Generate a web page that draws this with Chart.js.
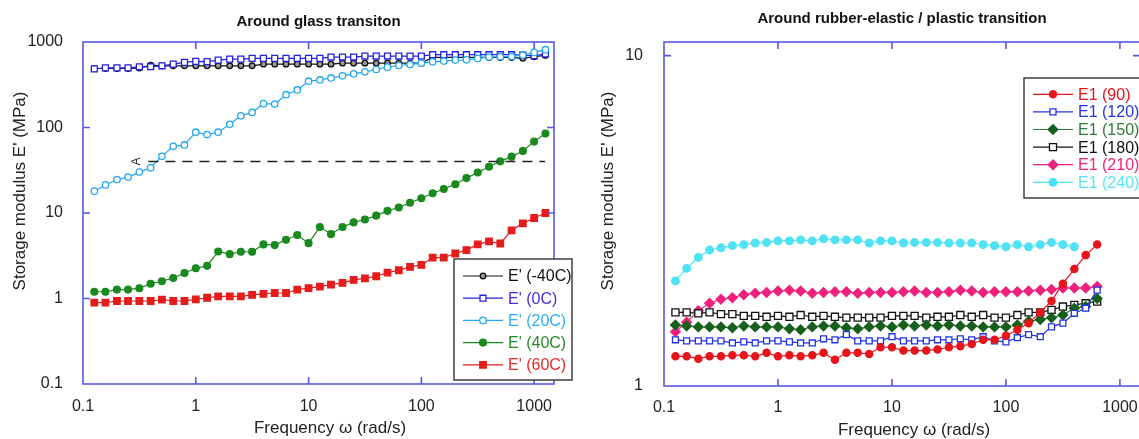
<!DOCTYPE html>
<html>
<head>
<meta charset="utf-8">
<script src="https://cdn.jsdelivr.net/npm/chart.js@4.4.0/dist/chart.umd.min.js"></script>
<style>
  html, body { margin: 0; padding: 0; background: #fff; overflow: hidden; width: 1139px; height: 439px; }
  #glass { position: absolute; left: 0; top: 0; }
  #rubber { position: absolute; left: 580px; top: 0; }
</style>
</head>
<body>
<canvas id="glass" width="580" height="439"></canvas>
<canvas id="rubber" width="580" height="439"></canvas>
<script>
// frequencies (rad/s)
const freqGlass = [0.126, 0.158, 0.2, 0.251, 0.316, 0.398, 0.501, 0.631, 0.794,
  1, 1.26, 1.58, 2, 2.51, 3.16, 3.98, 5.01, 6.31, 7.94,
  10, 12.6, 15.8, 20, 25.1, 31.6, 39.8, 50.1, 63.1, 79.4,
  100, 126, 158, 200, 251, 316, 398, 501, 631, 794, 1000, 1259];
const freqRubber = freqGlass.slice(0, 38);

// left panel: E' (MPa)
const eMinus40 = [490, 490, 490, 490, 495, 536, 527, 527, 527, 527, 527, 527, 527, 527, 527, 551, 551, 551, 551, 551,
  551, 551, 566, 566, 566, 566, 566, 566, 566, 566, 660, 660, 660, 660, 660, 660, 660, 660, 644, 672, 697];
const e0 = [485, 499, 499, 499, 513, 514, 527, 551, 577, 593, 590, 614, 631, 631, 643, 643, 643, 643, 643, 643,
  643, 667, 667, 667, 685, 685, 685, 685, 685, 685, 710, 710, 710, 710, 710, 710, 710, 710, 700, 690, 725];
const e20 = [18.0, 21.3, 24.6, 26.3, 30.1, 33.8, 46.0, 60.3, 62.5, 88.1, 82.7, 88.1, 109, 137, 150, 190, 188, 242, 275, 348,
  360, 380, 402, 424, 448, 477, 508, 531, 546, 566, 587, 598, 614, 619, 643, 667, 672, 678, 703, 756, 813];
const e40 = [1.20, 1.20, 1.27, 1.27, 1.32, 1.49, 1.59, 1.74, 1.99, 2.26, 2.41, 3.55, 3.30, 3.52, 3.52, 4.29, 4.21, 4.86, 5.52, 4.44,
  6.85, 5.66, 6.85, 7.76, 8.4, 9.31, 10.6, 11.6, 13.2, 14.9, 17.0, 19.1, 21.7, 25.6, 29.8, 34.8, 40.2, 45.6, 53.1, 68.4, 85.0];
const e60 = [0.893, 0.893, 0.935, 0.935, 0.935, 0.935, 0.969, 0.935, 0.935, 0.977, 1.02, 1.06, 1.06, 1.06, 1.10, 1.13, 1.16, 1.16, 1.27, 1.32,
  1.38, 1.45, 1.52, 1.65, 1.72, 1.82, 2.01, 2.14, 2.34, 2.47, 3.01, 3.01, 3.36, 3.68, 4.29, 4.65, 4.40, 6.25, 7.57, 8.74, 10.0];
const refLevel = 40;
const refFrom = 0.38;
const refTo = 1250;

// right panel: E1 (MPa)
const e1_90 = [1.23, 1.23, 1.21, 1.23, 1.23, 1.24, 1.24, 1.23, 1.26, 1.23, 1.24, 1.23, 1.24, 1.26, 1.20, 1.26, 1.26, 1.25, 1.31, 1.31,
  1.28, 1.28, 1.28, 1.29, 1.31, 1.32, 1.34, 1.38, 1.38, 1.42, 1.48, 1.55, 1.67, 1.81, 2.04, 2.26, 2.49, 2.68];
const e1_120 = [1.38, 1.37, 1.37, 1.37, 1.37, 1.35, 1.36, 1.35, 1.37, 1.37, 1.36, 1.35, 1.35, 1.39, 1.38, 1.43, 1.37, 1.37, 1.37, 1.41,
  1.37, 1.37, 1.37, 1.38, 1.38, 1.39, 1.38, 1.41, 1.37, 1.36, 1.40, 1.43, 1.41, 1.51, 1.55, 1.66, 1.72, 1.95];
const e1_150 = [1.53, 1.52, 1.51, 1.51, 1.51, 1.50, 1.52, 1.51, 1.51, 1.51, 1.49, 1.48, 1.51, 1.52, 1.52, 1.50, 1.49, 1.51, 1.52, 1.51,
  1.53, 1.52, 1.53, 1.52, 1.53, 1.52, 1.52, 1.51, 1.51, 1.51, 1.53, 1.57, 1.59, 1.61, 1.64, 1.72, 1.74, 1.84];
const e1_180 = [1.67, 1.67, 1.66, 1.67, 1.65, 1.65, 1.63, 1.63, 1.62, 1.63, 1.62, 1.64, 1.62, 1.63, 1.62, 1.61, 1.61, 1.61, 1.61, 1.63,
  1.63, 1.63, 1.61, 1.62, 1.62, 1.64, 1.62, 1.64, 1.61, 1.61, 1.64, 1.67, 1.67, 1.70, 1.74, 1.76, 1.78, 1.80];
const e1_210 = [1.46, 1.56, 1.69, 1.78, 1.83, 1.85, 1.89, 1.91, 1.92, 1.94, 1.95, 1.94, 1.91, 1.92, 1.93, 1.93, 1.91, 1.92, 1.92, 1.92,
  1.93, 1.94, 1.92, 1.92, 1.93, 1.95, 1.94, 1.92, 1.93, 1.93, 1.93, 1.94, 1.95, 1.96, 1.98, 1.98, 1.98, 2.00];
const e1_240 = [2.08, 2.27, 2.45, 2.58, 2.62, 2.66, 2.68, 2.71, 2.72, 2.75, 2.75, 2.77, 2.75, 2.79, 2.77, 2.77, 2.77, 2.71, 2.75, 2.75,
  2.71, 2.72, 2.72, 2.72, 2.71, 2.71, 2.71, 2.68, 2.66, 2.64, 2.68, 2.64, 2.68, 2.72, 2.68, 2.64];

const glassXTicks = [0.1, 1, 10, 100, 1000];
const glassYTicks = [0.1, 1, 10, 100, 1000];
const rubberXTicks = [0.1, 1, 10, 100, 1000];
const rubberYTicks = [1, 10];

const FONT = "'Liberation Sans', Arial, sans-serif";
const AXIS_BLUE = '#5858e2';
const TICK_TEXT = '#222';

function series(label, xs, ys, style) {
  return Object.assign({
    label: label,
    data: ys.map((y, i) => ({ x: xs[i], y: y })),
    borderWidth: 1.2,
    pointBorderWidth: 1.3,
    inLegend: true
  }, style);
}

function drawMarker(ctx, style, r, x, y) {
  ctx.beginPath();
  if (style === 'rect') {
    const s = r * Math.SQRT1_2;
    ctx.rect(x - s, y - s, 2 * s, 2 * s);
  } else if (style === 'rectRot') {
    ctx.moveTo(x, y - r); ctx.lineTo(x + r, y); ctx.lineTo(x, y + r); ctx.lineTo(x - r, y); ctx.closePath();
  } else {
    ctx.arc(x, y, r, 0, Math.PI * 2);
  }
  ctx.fill();
  ctx.stroke();
}

// frame with inward ticks, axis titles, annotation text
const framePlugin = {
  id: 'frame',
  afterDatasetsDraw(chart, args, o) {
    const ctx = chart.ctx;
    const a = chart.chartArea;
    const sx = chart.scales.x, sy = chart.scales.y;
    ctx.save();
    ctx.strokeStyle = AXIS_BLUE;
    ctx.lineWidth = 1.6;
    ctx.strokeRect(a.left, a.top, a.right - a.left, a.bottom - a.top);
    ctx.beginPath();
    const t = 7;
    sx.ticks.forEach(tk => {
      const px = sx.getPixelForValue(tk.value);
      if (px < a.left + 2 || px > a.right - 2) return;
      ctx.moveTo(px, a.bottom); ctx.lineTo(px, a.bottom - t);
      ctx.moveTo(px, a.top); ctx.lineTo(px, a.top + t);
    });
    sy.ticks.forEach(tk => {
      const py = sy.getPixelForValue(tk.value);
      if (py < a.top + 2 || py > a.bottom - 2) return;
      ctx.moveTo(a.left, py); ctx.lineTo(a.left + t, py);
      ctx.moveTo(a.right, py); ctx.lineTo(a.right - t, py);
    });
    ctx.stroke();

    ctx.fillStyle = '#222';
    ctx.font = '17px ' + FONT;
    ctx.textAlign = 'center';
    ctx.textBaseline = 'middle';
    ctx.fillText(o.xTitle, o.xTitleX, o.xTitleY);
    ctx.save();
    ctx.translate(o.yTitleX, o.yTitleY);
    ctx.rotate(-Math.PI / 2);
    ctx.fillText(o.yTitle, 0, 0);
    ctx.restore();

    if (o.mark) {
      ctx.save();
      ctx.font = '12px ' + FONT;
      ctx.fillStyle = '#333';
      ctx.translate(sx.getPixelForValue(o.mark.x), sy.getPixelForValue(o.mark.y));
      ctx.rotate(-Math.PI / 2);
      ctx.fillText(o.mark.text, 0, 0);
      ctx.restore();
    }
    ctx.restore();
  }
};

const legendPlugin = {
  id: 'boxLegend',
  afterDraw(chart, args, o) {
    const ctx = chart.ctx;
    ctx.save();
    ctx.fillStyle = '#fff';
    ctx.fillRect(o.x, o.y, o.w, o.h);
    ctx.strokeStyle = '#333';
    ctx.lineWidth = 1.4;
    ctx.strokeRect(o.x, o.y, o.w, o.h);
    ctx.font = '16px ' + FONT;
    ctx.textBaseline = 'middle';
    ctx.textAlign = 'left';
    chart.data.datasets.filter(d => d.inLegend).forEach((d, i) => {
      const cy = o.firstRow + i * o.rowH;
      ctx.strokeStyle = d.borderColor;
      ctx.lineWidth = 1.2;
      ctx.beginPath();
      ctx.moveTo(o.lineX0, cy); ctx.lineTo(o.lineX1, cy);
      ctx.stroke();
      ctx.fillStyle = d.pointBackgroundColor;
      ctx.strokeStyle = d.pointBorderColor;
      ctx.lineWidth = d.pointBorderWidth;
      drawMarker(ctx, d.pointStyle, d.pointRadius, (o.lineX0 + o.lineX1) / 2, cy);
      ctx.fillStyle = d.legendColor;
      ctx.fillText(d.label, o.textX, cy + 1);
    });
    ctx.restore();
  }
};

function logAxis(min, max, ticks, fit) {
  return {
    type: 'logarithmic',
    min: min,
    max: max,
    grid: { display: false },
    border: { display: false },
    ticks: {
      autoSkip: false,
      maxRotation: 0,
      color: TICK_TEXT,
      font: { family: FONT, size: 16 },
      padding: fit.padding,
      callback: v => String(v)
    },
    afterBuildTicks: s => { s.ticks = ticks.map(v => ({ value: v })); },
    afterFit: s => { if (fit.width) s.width = fit.width; if (fit.height) s.height = fit.height; }
  };
}

new Chart(document.getElementById('glass'), {
  type: 'line',
  data: {
    datasets: [
      series("E' (-40C)", freqGlass, eMinus40, { borderColor: '#111', pointBorderColor: '#111', pointBackgroundColor: '#999',
        pointStyle: 'circle', pointRadius: 2.8, legendColor: '#111', order: 6 }),
      series("E' (0C)", freqGlass, e0, { borderColor: '#2222dd', pointBorderColor: '#2222dd', pointBackgroundColor: '#fff',
        pointStyle: 'rect', pointRadius: 4.2, legendColor: '#4b2bd6', order: 5 }),
      series("E' (20C)", freqGlass, e20, { borderColor: '#22a8ee', pointBorderColor: '#22a8ee', pointBackgroundColor: '#fff',
        pointStyle: 'circle', pointRadius: 3.2, legendColor: '#2fb0ee', order: 4 }),
      series("E' (40C)", freqGlass, e40, { borderColor: '#188a1e', pointBorderColor: '#188a1e', pointBackgroundColor: '#188a1e',
        pointStyle: 'circle', pointRadius: 3.4, legendColor: '#2a8a2a', order: 3 }),
      series("E' (60C)", freqGlass, e60, { borderColor: '#e41c1c', pointBorderColor: '#e41c1c', pointBackgroundColor: '#e41c1c',
        pointStyle: 'rect', pointRadius: 4.6, legendColor: '#e42a2a', order: 2 }),
      { label: 'ref', data: [{ x: refFrom, y: refLevel }, { x: refTo, y: refLevel }], borderColor: '#222',
        borderWidth: 1.3, borderDash: [10, 7], pointRadius: 0, inLegend: false, order: 1 }
    ]
  },
  options: {
    responsive: false,
    animation: false,
    layout: { padding: { left: 0, right: 26, top: 0, bottom: 0 } },
    plugins: {
      legend: { display: false },
      tooltip: { enabled: false },
      title: { display: true, text: 'Around glass transiton', fullSize: false, color: '#111',
        font: { family: FONT, size: 15, weight: 'bold' }, padding: { top: 13, bottom: 11 } },
      frame: { xTitle: 'Frequency \u03c9 (rad/s)', xTitleX: 330, xTitleY: 428,
        yTitle: "Storage modulus E' (MPa)", yTitleX: 20, yTitleY: 191,
        mark: { x: 0.3, y: refLevel, text: 'A' } },
      boxLegend: { x: 454, y: 259, w: 118, h: 121, firstRow: 276, rowH: 22.2, lineX0: 463, lineX1: 503, textX: 508 }
    },
    scales: {
      x: logAxis(0.1, 1500, glassXTicks, { height: 55, padding: 5 }),
      y: logAxis(0.1, 1000, glassYTicks, { width: 83, padding: 12 })
    }
  },
  plugins: [framePlugin, legendPlugin]
});

new Chart(document.getElementById('rubber'), {
  type: 'line',
  data: {
    datasets: [
      series('E1 (90)', freqRubber, e1_90, { borderColor: '#e8141c', pointBorderColor: '#e8141c', pointBackgroundColor: '#e8141c',
        pointStyle: 'circle', pointRadius: 3.6, legendColor: '#e8141c', order: 1 }),
      series('E1 (120)', freqRubber, e1_120, { borderColor: '#2233e0', pointBorderColor: '#2233e0', pointBackgroundColor: '#fff',
        pointStyle: 'rect', pointRadius: 4.2, legendColor: '#2233e0', order: 2 }),
      series('E1 (150)', freqRubber, e1_150, { borderColor: '#2f7a34', pointBorderColor: '#175f1c', pointBackgroundColor: '#175f1c',
        pointStyle: 'rectRot', pointRadius: 4.8, legendColor: '#2f7a34', order: 3 }),
      series('E1 (180)', freqRubber, e1_180, { borderColor: '#111', pointBorderColor: '#111', pointBackgroundColor: '#fff',
        pointStyle: 'rect', pointRadius: 5, legendColor: '#111', order: 4 }),
      series('E1 (210)', freqRubber, e1_210, { borderColor: '#f0207c', pointBorderColor: '#f0207c', pointBackgroundColor: '#f0207c',
        pointStyle: 'rectRot', pointRadius: 4.8, legendColor: '#f0207c', order: 5 }),
      series('E1 (240)', freqRubber.slice(0, e1_240.length), e1_240, { borderColor: '#4ee2f4', pointBorderColor: '#4ee2f4',
        pointBackgroundColor: '#4ee2f4', pointStyle: 'circle', pointRadius: 3.8, legendColor: '#5ae4f4', order: 6 })
    ]
  },
  options: {
    responsive: false,
    animation: false,
    layout: { padding: { left: 0, right: 20, top: 0, bottom: 0 } },
    plugins: {
      legend: { display: false },
      tooltip: { enabled: false },
      title: { display: true, text: 'Around rubber-elastic / plastic transition', fullSize: false, color: '#111',
        font: { family: FONT, size: 15, weight: 'bold' }, padding: { top: 10, bottom: 14 } },
      frame: { xTitle: 'Frequency \u03c9 (rad/s)', xTitleX: 334, xTitleY: 430,
        yTitle: "Storage modulus E' (MPa)", yTitleX: 28, yTitleY: 191 },
      boxLegend: { x: 444, y: 78, w: 140, h: 120, firstRow: 94.3, rowH: 17.6, lineX0: 453, lineX1: 493, textX: 498 }
    },
    scales: {
      x: logAxis(0.1, 1500, rubberXTicks, { height: 53, padding: 4 }),
      y: logAxis(1, 11, rubberYTicks, { width: 84, padding: 13 })
    }
  },
  plugins: [framePlugin, legendPlugin]
});
</script>
</body>
</html>
